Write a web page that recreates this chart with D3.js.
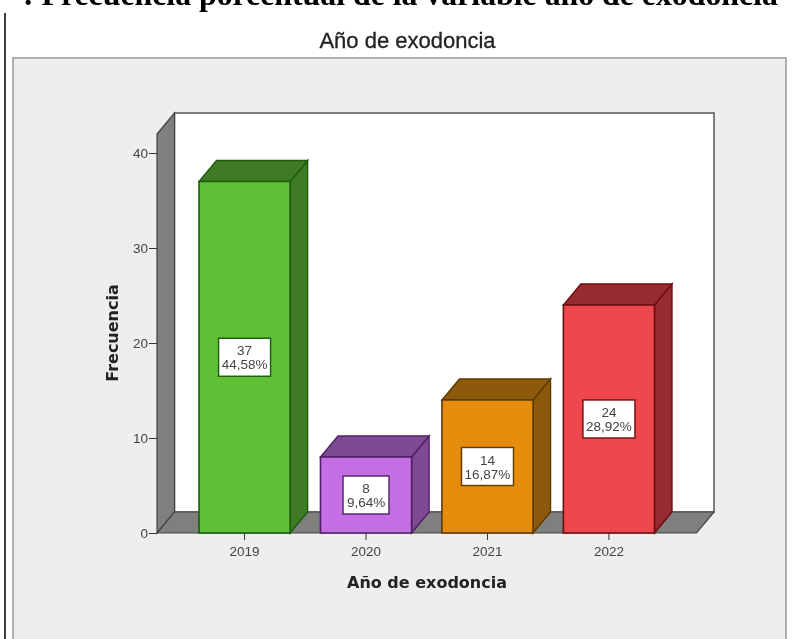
<!DOCTYPE html>
<html><head><meta charset="utf-8">
<style>html,body{margin:0;padding:0;background:#fff;overflow:hidden}svg{display:block;filter:blur(.5px)}</style>
<script src="https://cdnjs.cloudflare.com/ajax/libs/d3/7.9.0/d3.min.js"></script></head><body><div id="c"></div>
<script>
const categories=["2019","2020","2021","2022"];
const counts=[37,8,14,24];
const percents=["44,58%","9,64%","16,87%","28,92%"];
const faceColors=["#5fc038","#c46fe3","#e68c0c","#ef474e"];
const topColors=["#3f7b24","#7f4a94","#8c5a0a","#962c30"];
const edgeColors=["#1d5a0c","#4f2065","#5f3a00","#6e0d10"];
const yTicks=[0,10,20,30,40];
const heading=": Frecuencia porcentual de la variable año de exodoncia";
const chartTitle="Año de exodoncia";
const xTitle="Año de exodoncia";
const yTitle="Frecuencia";

const W=792,H=639,dx=17.5,dy=21;
const svg=d3.select("#c").append("svg").attr("width",W).attr("height",H);
const x=d3.scaleBand().domain(categories).range([157,696.5]).paddingInner(.25).paddingOuter(.346);
const y=d3.scaleLinear().domain([0,42]).range([533,134]);
const poly=(pts,fill,stroke,sw=1)=>svg.append("polygon").attr("points",pts.map(p=>p.join(",")).join(" ")).attr("fill",fill).attr("stroke",stroke).attr("stroke-width",sw);

svg.append("text").attr("x",23).attr("y",4.5).attr("font-family","Liberation Serif").attr("font-weight",700).attr("font-size",31.8).attr("fill","#000").text(heading);
svg.append("line").attr("x1",5).attr("x2",5).attr("y1",13).attr("y2",H).attr("stroke","#000").attr("stroke-width",1.5);
svg.append("text").attr("x",407.5).attr("y",48).attr("text-anchor","middle").attr("font-family","Liberation Sans").attr("font-size",22).attr("fill","#222").attr("stroke","#222").attr("stroke-width",.3).text(chartTitle);
svg.append("rect").attr("x",13).attr("y",58).attr("width",773).attr("height",H).attr("fill","#eeeeee").attr("stroke","#999").attr("stroke-width",1.5);

const [x0,x1]=x.range(),y0=y(0),yT=y(42);
poly([[x0+dx,yT-dy],[x1+dx,yT-dy],[x1+dx,y0-dy],[x0+dx,y0-dy]],"#fff","#555",1.5);
poly([[x0,y0],[x0+dx,y0-dy],[x0+dx,yT-dy],[x0,yT]],"#7f7f7f","#444",1.2);
poly([[x0,y0],[x1,y0],[x1+dx,y0-dy],[x0+dx,y0-dy]],"#7f7f7f","#444",1.2);

categories.forEach((c,i)=>{
  const l=x(c),r=l+x.bandwidth(),t=y(counts[i]);
  poly([[r,y0],[r+dx,y0-dy],[r+dx,t-dy],[r,t]],topColors[i],edgeColors[i],1.4);
  poly([[l,t],[r,t],[r+dx,t-dy],[l+dx,t-dy]],topColors[i],edgeColors[i],1.4);
  poly([[l,y0],[r,y0],[r,t],[l,t]],faceColors[i],edgeColors[i],1.6);
});

const yAxis=svg.append("g").attr("transform",`translate(${x0},0)`).call(d3.axisLeft(y).tickValues(yTicks).tickSize(8).tickPadding(1));
const xAxis=svg.append("g").attr("transform",`translate(0,${y0})`).call(d3.axisBottom(x).tickSize(7).tickPadding(6));
[yAxis,xAxis].forEach(a=>{a.select(".domain").remove();a.selectAll("line").attr("stroke","#333");a.selectAll("text").attr("font-family","Liberation Sans").attr("font-size",13.5).attr("fill","#444")});

categories.forEach((c,i)=>{
  const cx=x(c)+x.bandwidth()/2,cy=y(counts[i]/2);
  const wide=percents[i].length>5?52:46;
  svg.append("rect").attr("x",cx-wide/2).attr("y",cy-19).attr("width",wide).attr("height",38).attr("fill","#fff").attr("stroke",edgeColors[i]).attr("stroke-width",1.4);
  const t=svg.append("text").attr("text-anchor","middle").attr("font-family","Liberation Sans").attr("font-size",13.5).attr("fill","#444");
  t.append("tspan").attr("x",cx).attr("y",cy-2).text(counts[i]);
  t.append("tspan").attr("x",cx).attr("y",cy+12).text(percents[i]);
});

svg.append("text").attr("x",427).attr("y",588).attr("text-anchor","middle").attr("font-family","DejaVu Sans").attr("font-weight",700).attr("font-size",16).attr("fill","#222").text(xTitle);
svg.append("text").attr("transform","translate(118,333) rotate(-90)").attr("text-anchor","middle").attr("font-family","DejaVu Sans").attr("font-weight",700).attr("font-size",16).attr("fill","#222").text(yTitle);
</script></body></html>
